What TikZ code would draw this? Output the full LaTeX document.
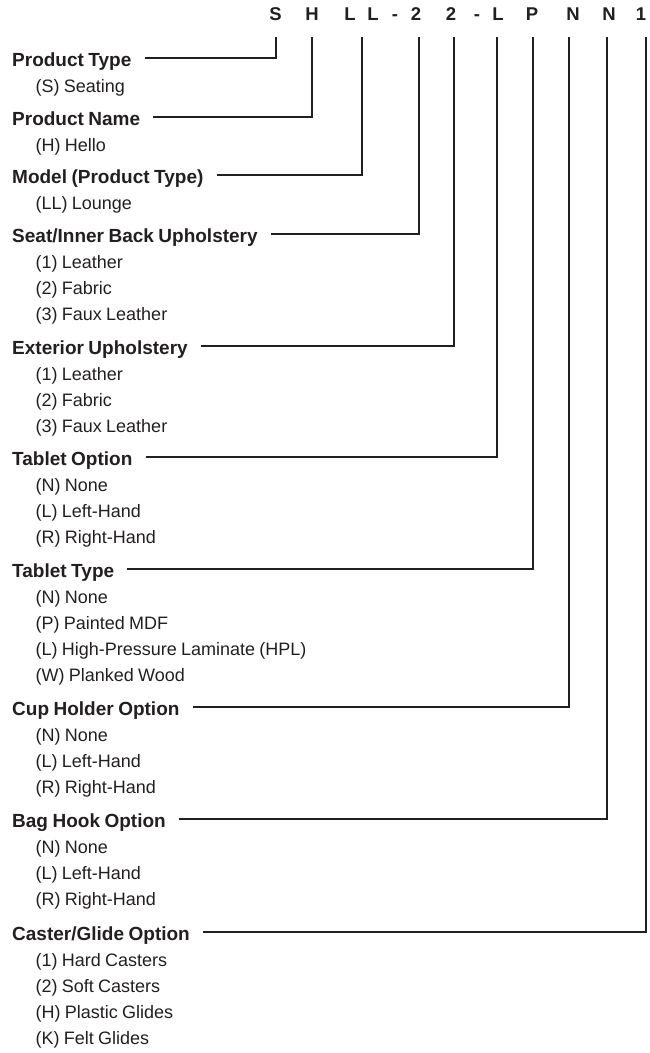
\documentclass[tikz,border=0pt]{standalone}
\usepackage{fontspec}
\setmainfont{Liberation Sans}[WordSpace=0.85]
\usetikzlibrary{calc}
\definecolor{ink}{HTML}{231F20}
\begin{document}
\begin{tikzpicture}[x=1pt,y=-1pt,
  head/.style={anchor=base west, inner sep=0pt, font=\fontsize{19}{20}\selectfont\bfseries, text=ink},
  item/.style={anchor=base west, inner sep=0pt, font=\fontsize{18}{20}\selectfont, text=ink},
  codeletter/.style={anchor=base, inner sep=0pt, font=\fontsize{18.5}{20}\selectfont\bfseries, text=ink},
  conn/.style={draw=ink, line width=2pt, line join=miter}]
\useasboundingbox (0,0) rectangle (649,1053);
% code letters
\node[codeletter] (c1) at (275.5,20.5) {S};
\node[codeletter] (c2) at (312,20.5) {H};
\node[codeletter] (c3) at (350,20.5) {L};
\node[codeletter] (c4) at (373,20.5) {L};
\node[codeletter] (c5) at (395,20.5) {-};
\node[codeletter] (c6) at (416,20.5) {2};
\node[codeletter] (c7) at (451,20.5) {2};
\node[codeletter] (c8) at (477,20.5) {-};
\node[codeletter] (c9) at (498,20.5) {L};
\node[codeletter] (c10) at (532,20.5) {P};
\node[codeletter] (c11) at (573,20.5) {N};
\node[codeletter] (c12) at (609,20.5) {N};
\node[codeletter] (c13) at (641,20.5) {1};
% tick tops
\coordinate (t1) at (276,37);
\coordinate (t2) at (312,37);
\coordinate (t3) at (362,37);
\coordinate (t4) at (419,37);
\coordinate (t5) at (454,37);
\coordinate (t6) at (497,37);
\coordinate (t7) at (533,37);
\coordinate (t8) at (569,37);
\coordinate (t9) at (607,37);
\coordinate (t10) at (646,37);
% headings
\node[head] (h1) at (12,66.5) {Product Type};
\node[head] (h2) at (12,125.5) {Product Name};
\node[head] (h3) at (12,183.5) {Model (Product Type)};
\node[head] (h4) at (12,242.5) {Seat/Inner Back Upholstery};
\node[head] (h5) at (12,354.5) {Exterior Upholstery};
\node[head] (h6) at (12,465.5) {Tablet Option};
\node[head] (h7) at (12,577.5) {Tablet Type};
\node[head] (h8) at (12,715.5) {Cup Holder Option};
\node[head] (h9) at (12,827.5) {Bag Hook Option};
\node[head] (h10) at (12,940.5) {Caster/Glide Option};
% items
\node[item] (i1a) at (35.5,92.5) {(S) Seating};
\node[item] (i2a) at (35.5,151.5) {(H) Hello};
\node[item] (i3a) at (35.5,209.5) {(LL) Lounge};
\node[item] (i4a) at (35.5,268.5) {(1) Leather};
\node[item] (i4b) at (35.5,294.5) {(2) Fabric};
\node[item] (i4c) at (35.5,320.5) {(3) Faux Leather};
\node[item] (i5a) at (35.5,380.5) {(1) Leather};
\node[item] (i5b) at (35.5,406.5) {(2) Fabric};
\node[item] (i5c) at (35.5,432.5) {(3) Faux Leather};
\node[item] (i6a) at (35.5,491.5) {(N) None};
\node[item] (i6b) at (35.5,517.5) {(L) Left-Hand};
\node[item] (i6c) at (35.5,543.5) {(R) Right-Hand};
\node[item] (i7a) at (35.5,603.5) {(N) None};
\node[item] (i7b) at (35.5,629.5) {(P) Painted MDF};
\node[item] (i7c) at (35.5,655.5) {(L) High-Pressure Laminate (HPL)};
\node[item] (i7d) at (35.5,681.5) {(W) Planked Wood};
\node[item] (i8a) at (35.5,741.5) {(N) None};
\node[item] (i8b) at (35.5,767.5) {(L) Left-Hand};
\node[item] (i8c) at (35.5,793.5) {(R) Right-Hand};
\node[item] (i9a) at (35.5,853.5) {(N) None};
\node[item] (i9b) at (35.5,879.5) {(L) Left-Hand};
\node[item] (i9c) at (35.5,905.5) {(R) Right-Hand};
\node[item] (i10a) at (35.5,966.5) {(1) Hard Casters};
\node[item] (i10b) at (35.5,992.5) {(2) Soft Casters};
\node[item] (i10c) at (35.5,1018.5) {(H) Plastic Glides};
\node[item] (i10d) at (35.5,1044.5) {(K) Felt Glides};
% connectors
\foreach \k in {1,...,10}{
  \draw[conn] ($(h\k.base east)+(13,-8.5)$) -| (t\k);
}
\end{tikzpicture}
\end{document}
